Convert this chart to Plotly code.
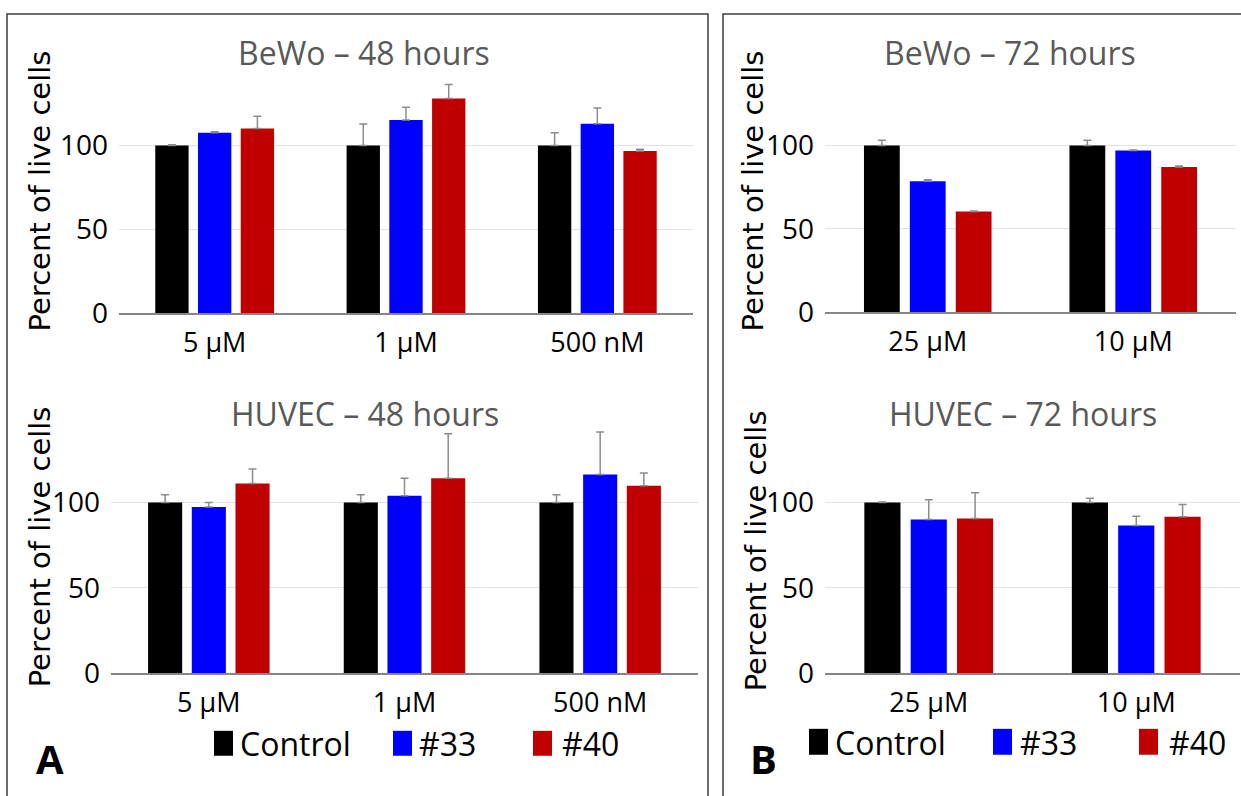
import plotly.graph_objects as go

W, H = 1241, 796
# the photographed page maps figure rows onto the picture with a factor
# of 796/812 vertically; lay everything out in picture pixels and convert
K = 812 / 796

# ---------------- data ----------------
series_names = ["Control", "#33", "#40"]
series_colors = ["#000000", "#0000ff", "#c00000"]

cats48 = ["5 µM", "1 µM", "500 nM"]
cats72 = ["25 µM", "10 µM"]

bewo48_ctrl = [100, 100, 100]
bewo48_ctrl_err = [0.5, 12.9, 7.6]
bewo48_33 = [107.6, 115.3, 113.1]
bewo48_33_err = [0.6, 7.6, 9.4]
bewo48_40 = [110.2, 128.1, 96.8]
bewo48_40_err = [7.3, 8.4, 1.0]

huvec48_ctrl = [100, 100, 100]
huvec48_ctrl_err = [4.5, 4.5, 4.5]
huvec48_33 = [97.3, 103.9, 116.5]
huvec48_33_err = [2.7, 10.3, 24.9]
huvec48_40 = [111.1, 114.2, 109.9]
huvec48_40_err = [8.5, 26.1, 7.4]

bewo72_ctrl = [100, 100]
bewo72_ctrl_err = [3.2, 3.2]
bewo72_33 = [78.5, 97.0]
bewo72_33_err = [1.0, 0.3]
bewo72_40 = [60.4, 87.1]
bewo72_40_err = [0.3, 0.7]

huvec72_ctrl = [100, 100]
huvec72_ctrl_err = [0.3, 2.5]
huvec72_33 = [90.0, 86.5]
huvec72_33_err = [11.6, 5.5]
huvec72_40 = [90.6, 91.6]
huvec72_40_err = [15.1, 7.2]

y_ticks = [0, 50, 100]
y_title = "Percent of live cells"

panels = [
    dict(title="BeWo – 48 hours", cats=cats48,
         vals=[bewo48_ctrl, bewo48_33, bewo48_40],
         errs=[bewo48_ctrl_err, bewo48_33_err, bewo48_40_err]),
    dict(title="HUVEC – 48 hours", cats=cats48,
         vals=[huvec48_ctrl, huvec48_33, huvec48_40],
         errs=[huvec48_ctrl_err, huvec48_33_err, huvec48_40_err]),
    dict(title="BeWo – 72 hours", cats=cats72,
         vals=[bewo72_ctrl, bewo72_33, bewo72_40],
         errs=[bewo72_ctrl_err, bewo72_33_err, bewo72_40_err]),
    dict(title="HUVEC – 72 hours", cats=cats72,
         vals=[huvec72_ctrl, huvec72_33, huvec72_40],
         errs=[huvec72_ctrl_err, huvec72_33_err, huvec72_40_err]),
]

# ---------------- layout geometry (picture pixels) ----------------
YMAX = 150
geo = [
    dict(x0=119, x1=693, yz=314, ppu=1.68, tx=364, ty=53, ax=40, ay=192),
    dict(x0=111, x1=698, yz=675, ppu=1.71, tx=365, ty=415, ax=40, ay=549),
    dict(x0=825, x1=1236, yz=313, ppu=1.67, tx=1010, ty=53, ax=753, ay=192),
    dict(x0=825, x1=1240, yz=675, ppu=1.71, tx=1023, ty=415, ax=756, ay=553),
]

def px(x):
    return x / W

def py(y):
    return 1 - (y * K) / H

FONT = "Open Sans"
fig = go.Figure()
layout = dict(width=W, height=H, margin=dict(l=0, r=0, t=0, b=0),
              paper_bgcolor="white", plot_bgcolor="white",
              barmode="group", bargap=0.33, bargroupgap=0.22,
              showlegend=False, annotations=[], shapes=[])

for i, (p, g) in enumerate(zip(panels, geo)):
    n = "" if i == 0 else str(i + 1)
    xa, ya = "x" + n, "y" + n
    for k in range(3):
        fig.add_trace(go.Bar(
            x=p["cats"], y=p["vals"][k], name=series_names[k],
            marker=dict(color=series_colors[k], line=dict(width=0)),
            error_y=dict(type="data", array=p["errs"][k], symmetric=False,
                         arrayminus=[0] * len(p["cats"]),
                         color="#8c8c8c", thickness=1.5, width=4),
            xaxis=xa, yaxis=ya, showlegend=False))
    ytop = g["yz"] - YMAX * g["ppu"]
    layout["xaxis" + n] = dict(
        domain=[px(g["x0"]), px(g["x1"])], anchor=ya,
        showline=True, linecolor="#868686", linewidth=2,
        showgrid=False, zeroline=False, ticks="",
        tickfont=dict(family=FONT, size=27, color="#000000"),
        ticklabelstandoff=5)
    layout["yaxis" + n] = dict(
        domain=[py(g["yz"]), py(ytop)], anchor=xa, range=[0, YMAX],
        tickvals=y_ticks, showgrid=True, gridcolor="#e3e3e3", gridwidth=1,
        zeroline=False, showline=False, ticks="",
        tickfont=dict(family=FONT, size=28, color="#000000"),
        ticklabelstandoff=10)
    layout["annotations"].append(dict(
        text=p["title"], x=px(g["tx"]), y=py(g["ty"]), xref="paper", yref="paper",
        xanchor="center", yanchor="middle", showarrow=False,
        font=dict(family=FONT, size=32, color="#595959")))
    layout["annotations"].append(dict(
        text=y_title, x=px(g["ax"]), y=py(g["ay"]), xref="paper", yref="paper",
        xanchor="center", yanchor="middle", textangle=-90, showarrow=False,
        font=dict(family="DejaVu Sans", size=29, color="#000000")))

legend_rows = [
    dict(sq=[214, 393, 533], y0=733, y1=758, tx=[238, 417, 560], ty=746),
    dict(sq=[809, 993, 1139], y0=731, y1=757, tx=[833, 1018, 1167], ty=745),
]
for row in legend_rows:
    for k in range(3):
        layout["shapes"].append(dict(
            type="rect", xref="paper", yref="paper",
            x0=px(row["sq"][k]), x1=px(row["sq"][k] + 19),
            y0=py(row["y1"]), y1=py(row["y0"]),
            fillcolor=series_colors[k], line=dict(width=0)))
        layout["annotations"].append(dict(
            text=series_names[k], x=px(row["tx"][k]), y=py(row["ty"]),
            xref="paper", yref="paper", xanchor="left", yanchor="middle",
            showarrow=False, font=dict(family=FONT, size=32, color="#000000")))

layout["shapes"].append(dict(type="rect", xref="paper", yref="paper",
                             x0=px(7), x1=px(708), y0=py(830), y1=py(14),
                             line=dict(color="#3c3c3c", width=1.5)))
layout["shapes"].append(dict(type="rect", xref="paper", yref="paper",
                             x0=px(723), x1=px(1260), y0=py(830), y1=py(14),
                             line=dict(color="#3c3c3c", width=1.5)))

# panel letters, kept fully inside the visible area
layout["annotations"].append(dict(text="<b>A</b>", x=px(50), y=py(761), xref="paper", yref="paper",
                                  xanchor="center", yanchor="middle", showarrow=False,
                                  font=dict(family=FONT, size=40, color="#000000")))
layout["annotations"].append(dict(text="<b>B</b>", x=px(763), y=py(761), xref="paper", yref="paper",
                                  xanchor="center", yanchor="middle", showarrow=False,
                                  font=dict(family=FONT, size=40, color="#000000")))

fig.update_layout(**layout)
fig.write_html("out.html")
